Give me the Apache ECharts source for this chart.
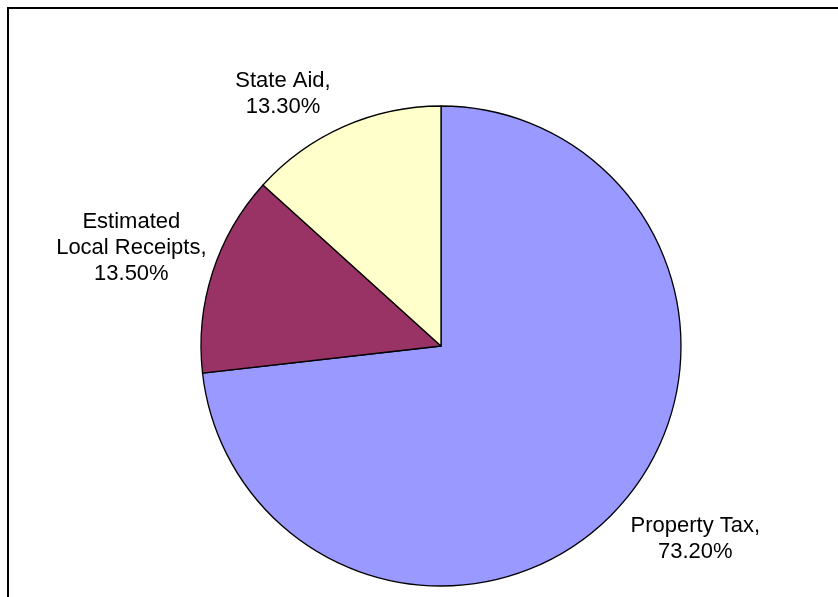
<!DOCTYPE html>
<html>
<head>
<meta charset="utf-8">
<script src="https://cdn.jsdelivr.net/npm/echarts@6/dist/echarts.min.js"></script>
<style>
	html, body { margin: 0; padding: 0; background: #ffffff; }
	#main { width: 838px; height: 597px; }
</style>
</head>
<body>
<div id="main"></div>
<script>
const names = ['Property Tax', 'Estimated\nLocal Receipts', 'State Aid'];
const values = [73.2, 13.5, 13.3];
const colors = ['#9999FF', '#993366', '#FFFFCC'];

// label placement per slice: radial line length, horizontal run
const lineLen = [50, 80, 36];
const lineLen2 = [33, 0, 41];

const myChart = echarts.init(document.getElementById('main'), null, { renderer: 'canvas' });

const pieData = names.map(function (name, i) {
	return {
		name: name,
		value: values[i],
		itemStyle: { color: colors[i] },
		labelLine: { show: false, length: lineLen[i], length2: lineLen2[i] }
	};
});

const option = {
	animation: false,
	graphic: [
		{
			type: 'rect',
			shape: { x: 8, y: 8, width: 840, height: 600 },
			style: { fill: 'none', stroke: '#000000', lineWidth: 2 },
			silent: true
		}
	],
	series: [
		{
			type: 'pie',
			center: [441, 346],
			radius: 240,
			startAngle: 90,
			clockwise: true,
			avoidLabelOverlap: false,
			data: pieData,
			itemStyle: { borderColor: '#000000', borderWidth: 1.3 },
			label: {
				show: true,
				position: 'outside',
				fontFamily: 'Liberation Sans, Arial, sans-serif',
				fontSize: 22,
				lineHeight: 26,
				color: '#000000',
				formatter: function (p) {
					return p.name + ',\n' + p.value.toFixed(2) + '%';
				}
			},
			labelLayout: function () {
				return { align: 'center' };
			},
			emphasis: { disabled: true }
		}
	]
};
myChart.setOption(option);
</script>
</body>
</html>
